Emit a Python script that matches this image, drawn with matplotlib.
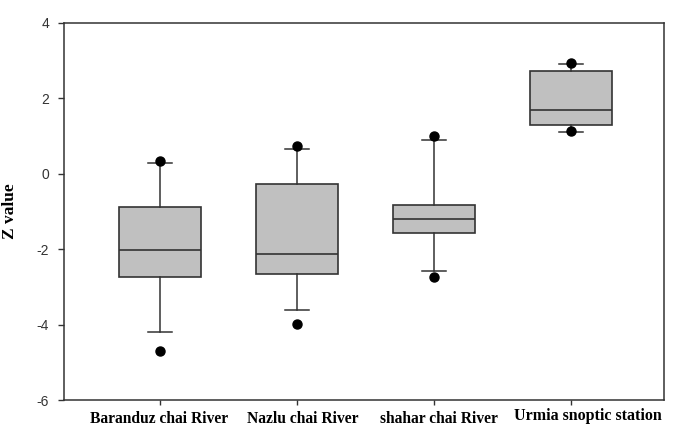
import matplotlib
matplotlib.use("Agg")
import matplotlib.pyplot as plt
import matplotlib.transforms as mtransforms

# === DATA ===
stations = ["Baranduz chai River", "Nazlu chai River", "shahar chai River", "Urmia snoptic station"]
q1 = [-2.75, -2.66, -1.57, 1.29]
medians = [-2.02, -2.12, -1.20, 1.69]
q3 = [-0.87, -0.26, -0.83, 2.72]
whisker_low = [-4.19, -3.61, -2.57, 1.12]
whisker_high = [0.29, 0.67, 0.90, 2.90]
outliers = [[0.345, -4.69], [0.74, -3.99], [1.01, -2.74], [2.95, 1.13]]

# === LAYOUT ===
W, H = 674, 426
box_pos = [1, 2, 3, 4]
label_shift = [(-1, 0), (6, 0), (5, 0), (17, 3)]   # px nudges of the category labels

fig = plt.figure(figsize=(W / 100, H / 100), dpi=100)
ax = fig.add_axes([63.5 / W, 1 - 400 / H, (664 - 63.5) / W, (400 - 23) / H])

stats = []
for i in range(len(stations)):
    stats.append(dict(med=medians[i], q1=q1[i], q3=q3[i],
                      whislo=whisker_low[i], whishi=whisker_high[i],
                      fliers=outliers[i], label=stations[i]))

edge = "#333333"
ax.bxp(stats, positions=box_pos, widths=0.6, capwidths=0.175,
       patch_artist=True, showfliers=True,
       boxprops=dict(facecolor="#c0c0c0", edgecolor=edge, linewidth=1.2),
       medianprops=dict(color=edge, linewidth=1.2),
       whiskerprops=dict(color=edge, linewidth=1.1),
       capprops=dict(color=edge, linewidth=1.1),
       flierprops=dict(marker="o", markerfacecolor="black", markeredgecolor="black",
                       markersize=6.5, linestyle="none"))

ax.set_xlim(0.293, 4.679)
ax.set_ylim(-6, 4)
ax.set_yticks([-6, -4, -2, 0, 2, 4])
ax.set_yticklabels(["-6", "-4", "-2", "0", "2", "4"],
                   fontfamily="Liberation Sans", fontsize=10, color="#333333")
ax.set_xticks(box_pos)
ax.set_xticklabels(stations, fontfamily="Liberation Serif", fontweight="bold", fontsize=11.2)

ax.tick_params(axis="y", direction="out", length=4.5, width=1, color=edge, pad=6)
ax.tick_params(axis="x", direction="out", length=3.5, width=1, color=edge, pad=4.3)

labels = ax.get_xticklabels()
labels[-1].set_fontsize(11.5)
for lab, (dx, dy) in zip(labels, label_shift):
    off = mtransforms.ScaledTranslation(dx / 100, dy / 100, fig.dpi_scale_trans)
    lab.set_transform(lab.get_transform() + off)

for sp in ax.spines.values():
    sp.set_color(edge)
    sp.set_linewidth(1.1)

ax.set_ylabel("Z value", fontfamily="Liberation Serif", fontweight="bold", fontsize=12.5, labelpad=13)

fig.savefig("out.png", dpi=100, facecolor="white")
